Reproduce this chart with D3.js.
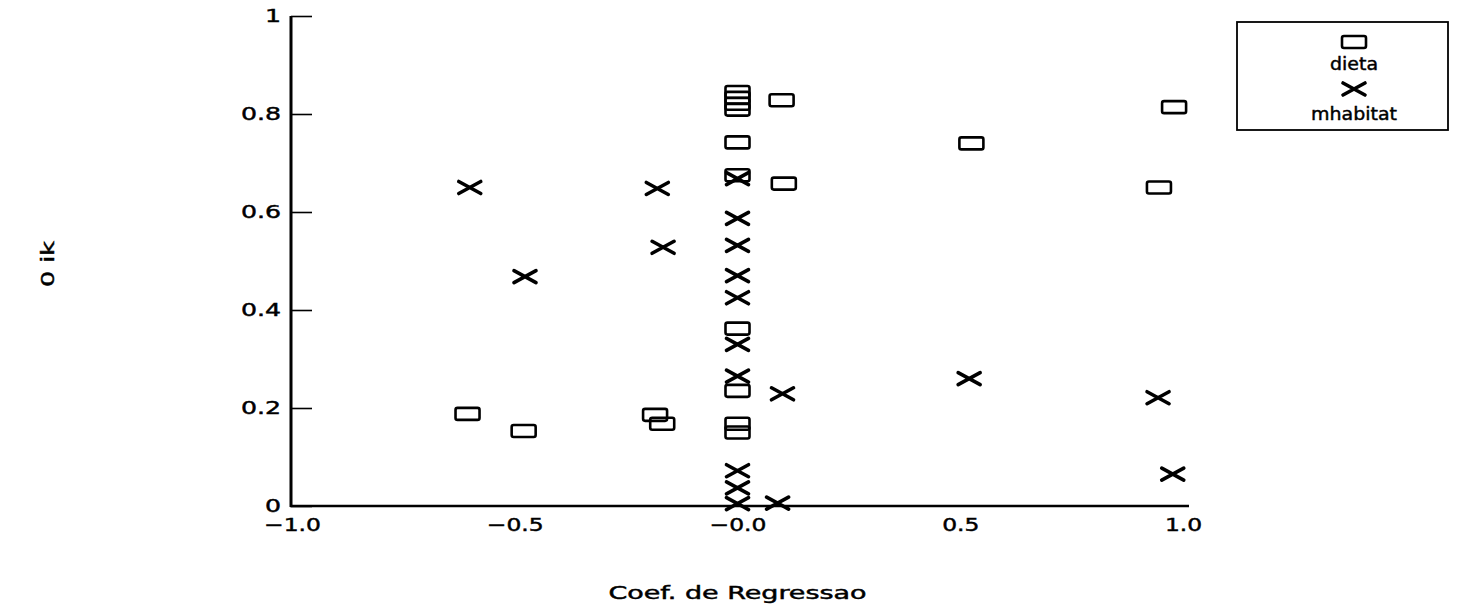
<!DOCTYPE html>
<html>
<head>
<meta charset="utf-8">
<script src="https://cdn.jsdelivr.net/npm/d3@7"></script>
<style>
  html, body { margin: 0; padding: 0; background: #fff; }
  svg { display: block; }
  text { font-family: "DejaVu Sans", "Liberation Sans", sans-serif; fill: #000; stroke: #000; stroke-width: 0.45px; }
</style>
</head>
<body>
<svg id="chart" width="1475" height="611"></svg>
<script>
// ---- data ----
const dietaCoef  = [-0.606, -0.480, -0.185, -0.169, 0.0, 0.0, 0.0, 0.0, 0.0, 0.0, 0.0, 0.0, 0.0, 0.0, 0.099, 0.104, 0.525, 0.946, 0.980];
const dietaTheta = [ 0.188,  0.153,  0.186,  0.168, 0.845, 0.833, 0.821, 0.809, 0.742, 0.675, 0.362, 0.235, 0.168, 0.150, 0.828, 0.658, 0.740, 0.650, 0.814];
const habCoef    = [-0.601, -0.477, -0.180, -0.167, 0.0, 0.0, 0.0, 0.0, 0.0, 0.0, 0.0, 0.0, 0.0, 0.0, 0.101, 0.090, 0.520, 0.944, 0.977];
const habTheta   = [ 0.650,  0.468,  0.648,  0.528, 0.668, 0.587, 0.532, 0.470, 0.425, 0.330, 0.265, 0.072, 0.037, 0.005, 0.229, 0.006, 0.260, 0.221, 0.065];
const xTicks = [-1.0, -0.5, 0.0, 0.5, 1.0];
const xTickLabels = ["\u22121.0", "\u22120.5", "\u22120.0", "0.5", "1.0"];
const yTicks = [0, 0.2, 0.4, 0.6, 0.8, 1];
const yTickLabels = ["0", "0.2", "0.4", "0.6", "0.8", "1"];
const seriesNames = ["dieta", "mhabitat"];
const xTitle = "Coef. de Regressao";
const yTitle = "0 ik";

// ---- layout ----
const svg = d3.select("#chart");
const x = d3.scaleLinear().domain([-1, 1]).range([292, 1183]);
const y = d3.scaleLinear().domain([0, 1]).range([506, 16]);

const dieta = dietaCoef.map((c, i) => ({ c, t: dietaTheta[i] }));
const hab = habCoef.map((c, i) => ({ c, t: habTheta[i] }));

// widen text horizontally (reference uses a wide stroke font)
function widen(sel, factor) {
  sel.each(function () {
    const w = this.getComputedTextLength();
    d3.select(this).attr("textLength", w * factor).attr("lengthAdjust", "spacingAndGlyphs");
  });
}

// marker generators
const RW = 24, RH = 12;
function drawSquare(g) {
  g.append("rect")
    .attr("x", -RW / 2).attr("y", -RH / 2)
    .attr("width", RW).attr("height", RH)
    .attr("rx", 2)
    .attr("fill", "none").attr("stroke", "#000").attr("stroke-width", 2.6);
}
const XW = 11, XH = 6;
function drawCross(g) {
  g.append("path")
    .attr("d", `M${-XW},${-XH}L${XW},${XH}M${-XW},${XH}L${XW},${-XH}`)
    .attr("fill", "none").attr("stroke", "#000").attr("stroke-width", 3.6)
    .attr("stroke-linecap", "round");
}

// y axis ticks (inside) and labels
const yTickAxis = d3.axisRight(y).tickValues(yTicks).tickSize(21).tickFormat("");
const gyT = svg.append("g").attr("transform", "translate(291,0)").call(yTickAxis);
gyT.select(".domain").remove();
gyT.selectAll(".tick line").attr("stroke", "#000").attr("stroke-width", 1.6);

const yLabAxis = d3.axisLeft(y).tickValues(yTicks).tickSize(0).tickPadding(10)
  .tickFormat((d, i) => yTickLabels[i]);
const gyL = svg.append("g").attr("transform", "translate(291,0)").call(yLabAxis);
gyL.select(".domain").remove();
gyL.selectAll(".tick text").attr("font-size", 18).attr("font-family", "DejaVu Sans").attr("fill", "#000");
widen(gyL.selectAll(".tick text"), 1.4);

// x axis labels (no tick marks)
const xLabAxis = d3.axisBottom(x).tickValues(xTicks).tickSize(0).tickPadding(12)
  .tickFormat((d, i) => xTickLabels[i]);
const gxL = svg.append("g").attr("transform", "translate(0,506)").call(xLabAxis);
gxL.select(".domain").remove();
gxL.selectAll(".tick text").attr("font-size", 18).attr("font-family", "DejaVu Sans").attr("fill", "#000");
widen(gxL.selectAll(".tick text"), 1.3);

// axis lines
svg.append("line").attr("x1", 291).attr("x2", 291).attr("y1", y(1)).attr("y2", y(0) + 1)
  .attr("stroke", "#000").attr("stroke-width", 3);
svg.append("line").attr("x1", 290).attr("x2", x(1) + 6).attr("y1", y(0)).attr("y2", y(0))
  .attr("stroke", "#000").attr("stroke-width", 2.6);

// points
svg.append("g").selectAll("g").data(dieta).join("g")
  .attr("transform", d => `translate(${x(d.c)},${y(d.t)})`)
  .each(function () { drawSquare(d3.select(this)); });
svg.append("g").selectAll("g").data(hab).join("g")
  .attr("transform", d => `translate(${x(d.c)},${y(d.t)})`)
  .each(function () { drawCross(d3.select(this)); });

// axis titles
svg.append("text").attr("x", x(0)).attr("y", 599).attr("text-anchor", "middle")
  .attr("font-size", 17).attr("textLength", 258).attr("lengthAdjust", "spacingAndGlyphs").text(xTitle);
svg.append("text").attr("transform", "translate(54,264) rotate(-90)")
  .attr("text-anchor", "middle").attr("font-size", 18)
  .attr("textLength", 46).attr("lengthAdjust", "spacingAndGlyphs").text(yTitle);

// legend
const lg = svg.append("g");
lg.append("rect").attr("x", 1237).attr("y", 22).attr("width", 211).attr("height", 108)
  .attr("fill", "none").attr("stroke", "#000").attr("stroke-width", 1.8);
const lx = 1354;
drawSquare(lg.append("g").attr("transform", `translate(${lx},42)`));
lg.append("text").attr("x", lx).attr("y", 70).attr("text-anchor", "middle").attr("font-size", 18)
  .attr("textLength", 48).attr("lengthAdjust", "spacingAndGlyphs").text(seriesNames[0]);
drawCross(lg.append("g").attr("transform", `translate(${lx},89)`));
lg.append("text").attr("x", lx).attr("y", 120).attr("text-anchor", "middle").attr("font-size", 18)
  .attr("textLength", 86).attr("lengthAdjust", "spacingAndGlyphs").text(seriesNames[1]);
</script>
</body>
</html>
